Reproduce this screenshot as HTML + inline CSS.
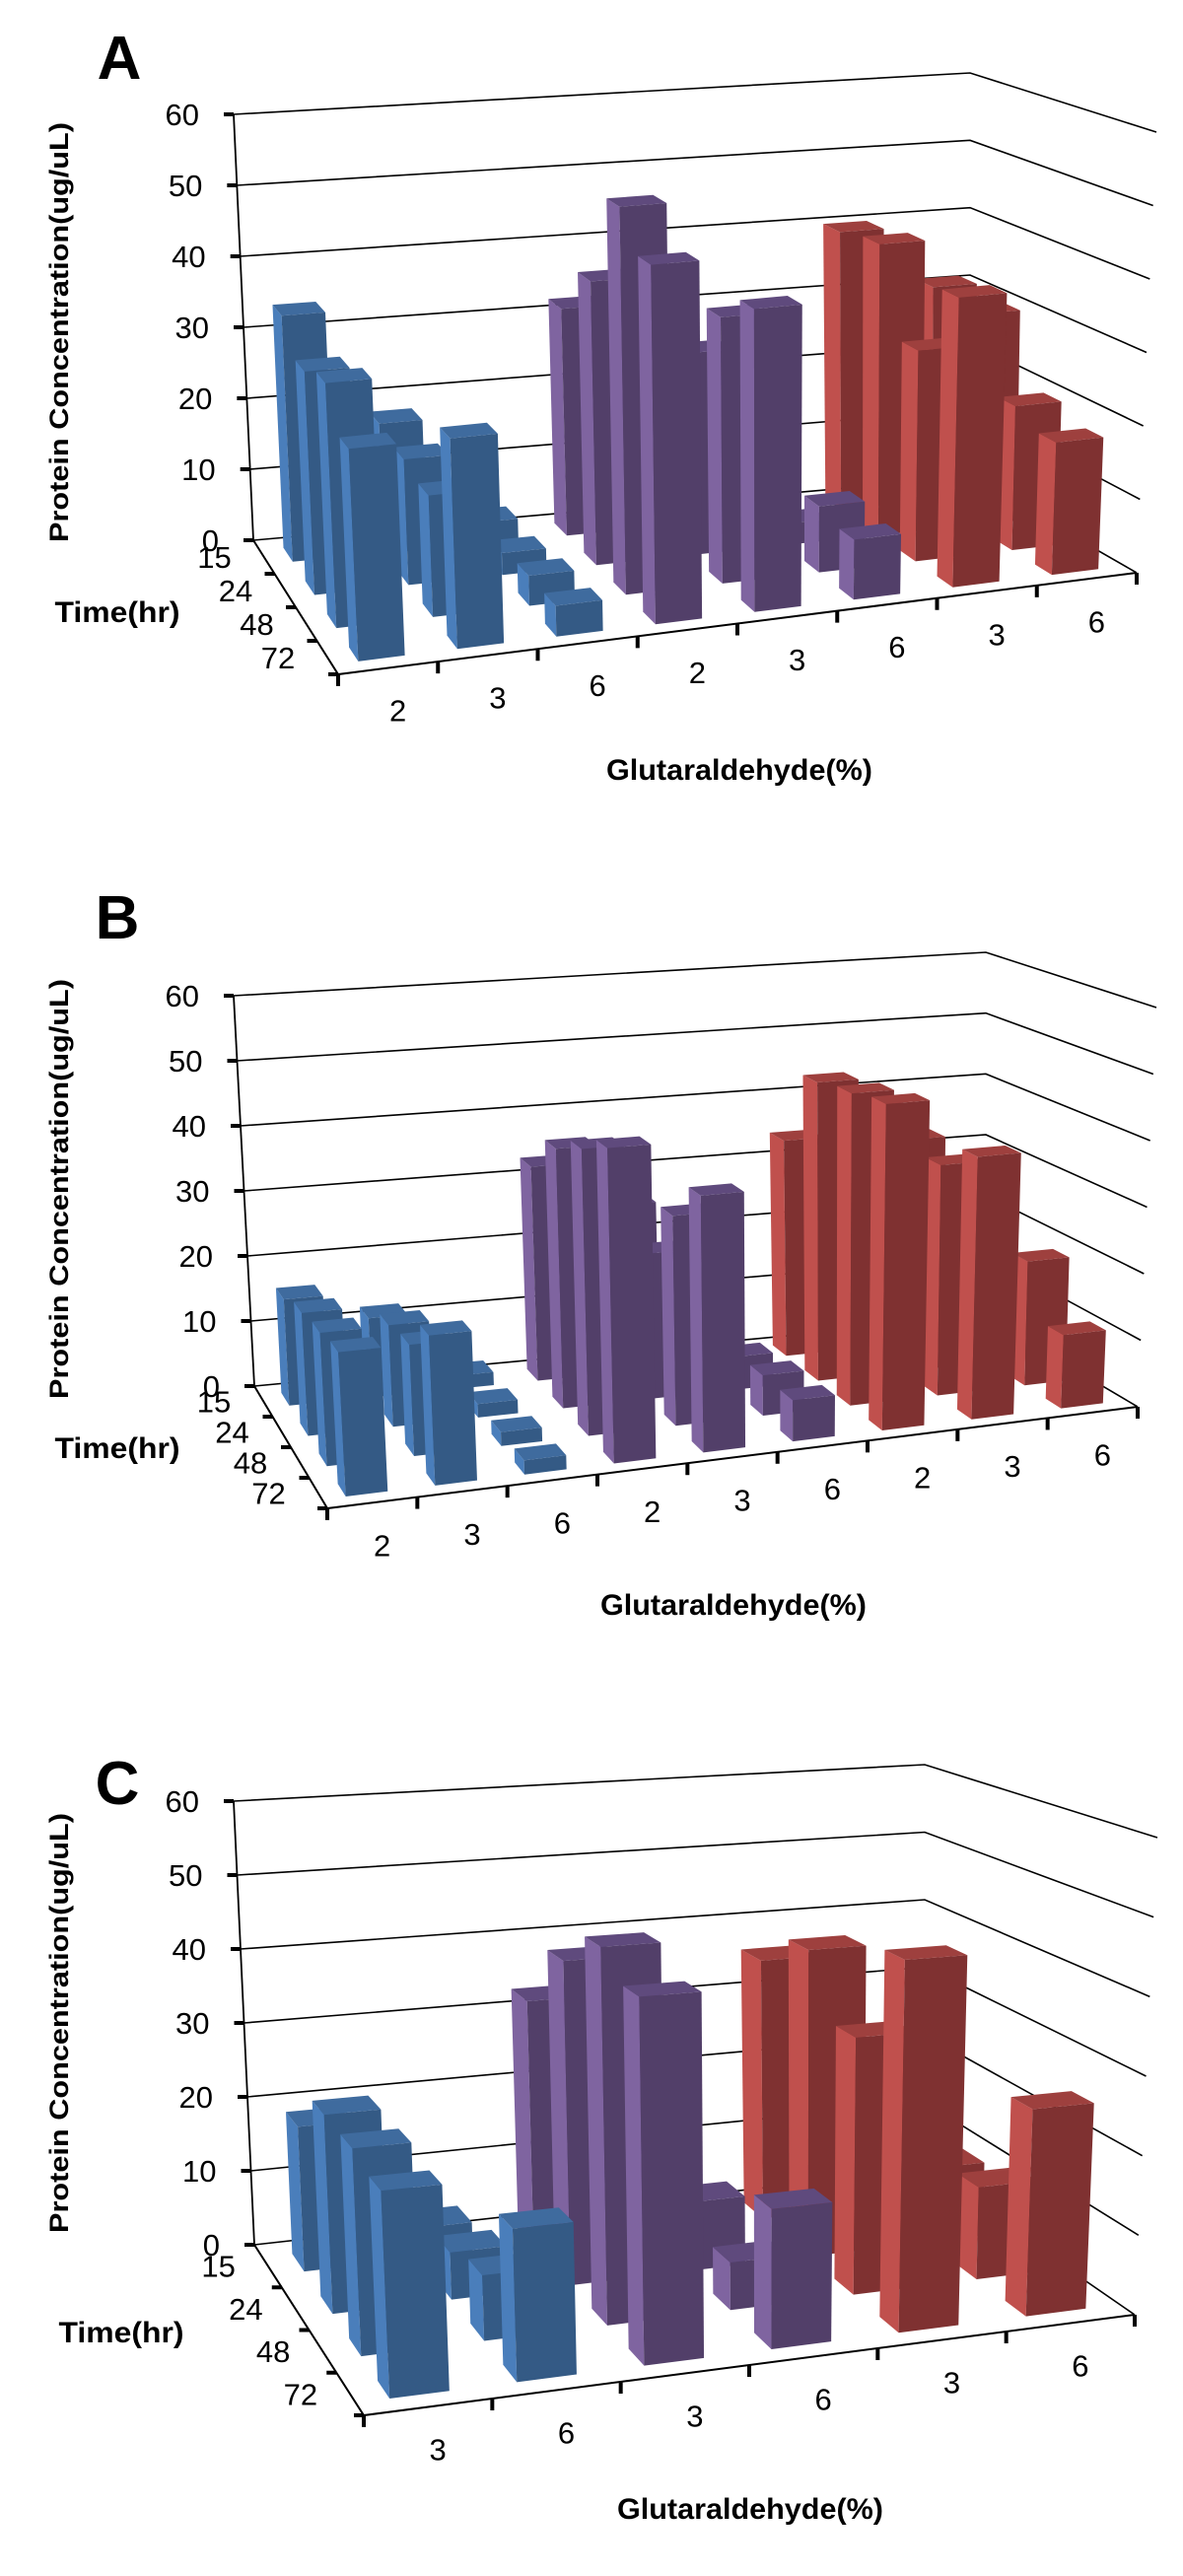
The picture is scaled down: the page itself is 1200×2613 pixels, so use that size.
<!DOCTYPE html>
<html><head><meta charset="utf-8"><title>Protein concentration 3D bar charts</title>
<style>html,body{margin:0;padding:0;background:#fff}svg{display:block}text{font-family:"Liberation Sans",sans-serif}</style></head>
<body>
<svg id="fig" xmlns="http://www.w3.org/2000/svg" width="1200" height="2613" viewBox="0 0 1200 2613"></svg>
<script>
// ---- data ----
const timeLabels = ['15','24','48','72'];
const yTicks = [0,10,20,30,40,50,60];
const catsA = ['2','3','6','2','3','6','3','6'];
const groupA = ['b','b','b','p','p','p','r','r'];
const valsA = [[34,30,32,27],[18,17,16,27],[3,3,4,4],[32,39,52,47],[30,28,36,40],[3,3,9,8],[40,41,29,39],[31,30,20,18]];
const catsB = ['2','3','6','2','3','6','2','3','6'];
const groupB = ['b','b','b','p','p','p','r','r','r'];
const valsB = [[16,18,19,20],[12,15,16,21],[2,2,2,2],[33,39,42,45],[26,22,31,37],[3,5,6,6],[34,46,47,48],[38,36,35,39],[15,15,19,11]];
const catsC = ['3','6','3','6','3','6'];
const groupC = ['b','b','p','p','r','r'];
const valsC = [[19,25,25,24],[4,6,8,18],[33,42,47,44],[4,9,6,17],[36,41,33,46],[10,10,12,26]];

// ---- geometry (pixel layout, not data) ----
const panels = [
 {id:'a', letter:'A', lp:[121,58], cats:catsA, group:groupA, vals:valsA,
  BL0:[257,548],BL60:[237,116],BR0:[984,484],BR60:[984,74],FR0:[1153,581],FR60:[1173,134],FL0:[343,684],
  timeTitle:[119,621], xTitle:[750,781], yTitleC:337},
 {id:'b', letter:'B', lp:[119,930], cats:catsB, group:groupB, vals:valsB,
  BL0:[258,1406],BL60:[237,1010],BR0:[1000,1336],BR60:[1000,966],FR0:[1154,1427],FR60:[1173,1022],FL0:[332,1530],
  timeTitle:[119,1469], xTitle:[744,1628], yTitleC:1206},
 {id:'c', letter:'C', lp:[119,1808], cats:catsC, group:groupC, vals:valsC,
  BL0:[258,2277],BL60:[237,1827],BR0:[938,2201],BR60:[938,1790],FR0:[1151,2348],FR60:[1174,1864],FL0:[369,2450],
  timeTitle:[123,2366], xTitle:[761,2545], yTitleC:2052}
];
const colors = {
 b:{front:'#345a85',left:'#4a7ebb',top:'#3f6b9e'},
 p:{front:'#523f69',left:'#7f64a0',top:'#5f4a7d'},
 r:{front:'#7f3131',left:'#c0504d',top:'#9e403e'}
};
const NS='http://www.w3.org/2000/svg';
const svg=document.getElementById('fig');
function mk(tag,attrs,parent){const e=document.createElementNS(NS,tag);for(const k in attrs)e.setAttribute(k,attrs[k]);(parent||svg).appendChild(e);return e;}
function lerp(a,b,t){return [a[0]+(b[0]-a[0])*t,a[1]+(b[1]-a[1])*t];}

panels.forEach(pn=>{
  const k=(pn.FR60[1]-pn.BR60[1])/(pn.FR0[1]-pn.BR0[1]);
  const FL60=[pn.FL0[0]+(pn.BL60[0]-pn.BL0[0])*1.15, pn.BL60[1]+(pn.FL0[1]-pn.BL0[1])*k];
  const N=pn.cats.length;
  function P(u,v,h){
    const b0=lerp(lerp(pn.BL0,pn.BR0,u),lerp(pn.FL0,pn.FR0,u),v);
    const b6=lerp(lerp(pn.BL60,pn.BR60,u),lerp(FL60,pn.FR60,u),v);
    return lerp(b0,b6,h/60);
  }
  const g=mk('g',{});
  
  
  const L=mk('text',{x:pn.lp[0],y:pn.lp[1]+22,'text-anchor':'middle','font-size':62,'font-weight':'bold'},g);
  L.textContent=pn.letter;
  
  
  yTicks.forEach(t=>{
    const a=P(0,0,t),b=P(1,0,t),c=P(1,1,t);
    const pl=mk('polyline',{points:`${a} ${b} ${c}`,fill:'none',stroke:'#000','stroke-width':1.6},g);
    
    
    const tk=mk('line',{x1:a[0]-10,y1:a[1],x2:a[0],y2:a[1],stroke:'#000','stroke-width':4},g);
    
    
    const tl=mk('text',{x:a[0]-35,y:a[1]+11,'text-anchor':'end','font-size':31},g);
    tl.textContent=t;
    
    
  });
  const ya=mk('line',{x1:P(0,0,60)[0],y1:P(0,0,60)[1],x2:P(0,0,0)[0],y2:P(0,0,0)[1],stroke:'#000','stroke-width':1.8},g);
  
  
  const fl=mk('polyline',{points:`${P(0,0,0)} ${P(0,1,0)} ${P(1,1,0)}`,fill:'none',stroke:'#000','stroke-width':2},g);
  
  
  timeLabels.forEach((lab,j)=>{
    const tp=P(0,(j+1)/4,0);
    const tk=mk('line',{x1:tp[0]-10,y1:tp[1],x2:tp[0],y2:tp[1],stroke:'#000','stroke-width':4},g);
    
    
    const cp=P(0,(j+0.5)/4,0);
    const tx=mk('text',{x:cp[0]-33,y:cp[1]+11,'text-anchor':'end','font-size':31},g);
    tx.textContent=lab;
    
    
  });
  for(let i=0;i<=N;i++){
    const tp=P(i/N,1,0);
    const tk=mk('line',{x1:tp[0],y1:tp[1],x2:tp[0],y2:tp[1]+12,stroke:'#000','stroke-width':4},g);
    
    
  }
  pn.cats.forEach((c,i)=>{
    const cp=P((i+0.5)/N,1,0);
    const tx=mk('text',{x:cp[0]+10,y:cp[1]+54,'text-anchor':'middle','font-size':31},g);
    tx.textContent=c;
    
    
  });
  const w=0.47,d=0.42;
  for(let j=0;j<4;j++){
    for(let i=N-1;i>=0;i--){
      const H=pn.vals[i][j];
      const col=colors[pn.group[i]];
      const u0=(i+0.5-w/2)/N,u1=(i+0.5+w/2)/N,v0=(j+0.5-d/2)/4,v1=(j+0.5+d/2)/4;
      const bg=mk('g',{},g);
      
      
      const left=[P(u0,v0,0),P(u0,v1,0),P(u0,v1,H),P(u0,v0,H)];
      const front=[P(u0,v1,0),P(u1,v1,0),P(u1,v1,H),P(u0,v1,H)];
      const top=[P(u0,v0,H),P(u1,v0,H),P(u1,v1,H),P(u0,v1,H)];
      mk('polygon',{points:left.join(' '),fill:col.left},bg);
      mk('polygon',{points:front.join(' '),fill:col.front},bg);
      mk('polygon',{points:top.join(' '),fill:col.top},bg);
    }
  }
  const tt=mk('text',{x:pn.timeTitle[0],y:pn.timeTitle[1]+10,'text-anchor':'middle','font-size':30,'font-weight':'bold',textLength:127,lengthAdjust:'spacingAndGlyphs'},g);
  tt.textContent='Time(hr)';
  
  
  const xt=mk('text',{x:pn.xTitle[0],y:pn.xTitle[1]+10,'text-anchor':'middle','font-size':30,'font-weight':'bold',textLength:270,lengthAdjust:'spacingAndGlyphs'},g);
  xt.textContent='Glutaraldehyde(%)';
  
  
  const yt=mk('text',{x:0,y:0,'text-anchor':'middle','font-size':27,'font-weight':'bold',textLength:426,lengthAdjust:'spacingAndGlyphs',transform:`translate(69,${pn.yTitleC}) rotate(-90)`},g);
  yt.textContent='Protein Concentration(ug/uL)';
  
  
});
</script>
</body></html>
